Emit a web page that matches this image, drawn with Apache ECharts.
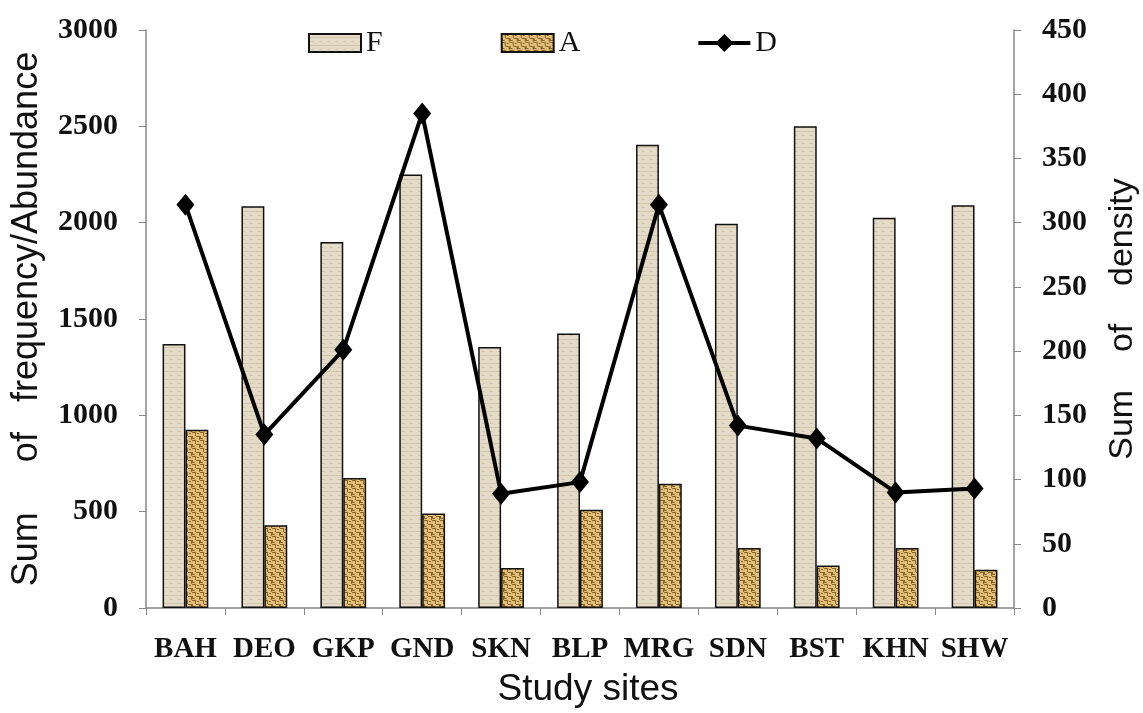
<!DOCTYPE html>
<html>
<head>
    <meta charset="utf-8">
    <title>Study sites</title>
    <style>
        html, body { margin: 0; padding: 0; background: #fff; }
        #main { width: 1143px; height: 713px; }
    </style>
</head>
<body>
    <div id="main"></div>
    <script src="https://cdn.jsdelivr.net/npm/echarts@6/dist/echarts.min.js"></script>
    <script>
    var sites = ['BAH', 'DEO', 'GKP', 'GND', 'SKN', 'BLP', 'MRG', 'SDN', 'BST', 'KHN', 'SHW'];
    var freq = [1370, 2085, 1900, 2250, 1355, 1425, 2405, 1995, 2500, 2025, 2090];
    var abund = [925, 430, 675, 490, 208, 510, 645, 312, 220, 312, 198];
    var density = [314, 135, 201, 385, 89, 98, 314, 142, 132, 90, 93];
    var leftTicks = [0, 3000, 500];
    var rightTicks = [0, 450, 50];

    // small canvas textures for the bars
    function makePattern(bg, fg, type) {
        var c = document.createElement('canvas');
        c.width = 8; c.height = 8;
        var ctx = c.getContext('2d');
        ctx.fillStyle = bg;
        ctx.fillRect(0, 0, 8, 8);
        ctx.fillStyle = fg;
        if (type == 'a') {
            ctx.fillRect(0, 0, 4, 1);
            ctx.fillRect(3, 1, 1, 3);
            ctx.fillRect(4, 4, 4, 1);
            ctx.fillRect(7, 5, 1, 3);
            ctx.fillRect(0, 4, 1, 3);
            ctx.fillRect(1, 6, 2, 1);
            ctx.fillRect(5, 1, 2, 1);
        } else {
            ctx.fillRect(0, 3, 8, 1);
            ctx.fillRect(2, 7, 3, 1);
        }
        return c;
    }

    var myChart = echarts.init(document.getElementById('main'));

    var serif = 'Liberation Serif';
    var sans = 'Liberation Sans';
    var fPattern = { image: makePattern('#e4dac8', '#d3c6ab', 'f'), repeat: 'repeat' };
    var aPattern = { image: makePattern('#e2c07a', '#8a6428', 'a'), repeat: 'repeat' };

    var option = {
        animation: false,
        backgroundColor: '#fff',
        legend: {
            top: 28,
            left: 308,
            padding: 0,
            itemGap: 118,
            itemWidth: 52,
            itemHeight: 18,
            textStyle: { fontFamily: serif, fontSize: 30, color: '#111' },
            data: [
                { name: 'F', icon: 'rect' },
                { name: 'A', icon: 'rect' },
                { name: 'D', icon: 'path://M0,7 L19,7 L26,0 L33,7 L52,7 L52,11 L33,11 L26,18 L19,11 L0,11 Z' }
            ]
        },
        grid: { left: 146, right: 129, top: 30, bottom: 105, outerBoundsMode: 'none' },
        xAxis: {
            type: 'category',
            data: sites,
            name: 'Study sites',
            nameLocation: 'middle',
            nameGap: 63,
            nameTextStyle: { fontFamily: sans, fontSize: 37, color: '#111', padding: [0, 0, 0, 16] },
            axisLine: { lineStyle: { color: '#888', width: 1.5 } },
            axisTick: { show: true, length: 7, lineStyle: { color: '#888' } },
            axisLabel: { fontFamily: serif, fontWeight: 'bold', fontSize: 29, color: '#111', margin: 27, interval: 0 }
        },
        yAxis: [{
            type: 'value',
            min: leftTicks[0],
            max: leftTicks[1],
            interval: leftTicks[2],
            name: 'Sum     of   frequency/Abundance',
            nameLocation: 'middle',
            nameGap: 101,
            nameTextStyle: { fontFamily: sans, fontSize: 36, color: '#111' },
            axisLine: { show: true, lineStyle: { color: '#888', width: 1.5 } },
            axisTick: { show: true, length: 7, lineStyle: { color: '#888' } },
            splitLine: { show: false },
            axisLabel: { fontFamily: serif, fontWeight: 'bold', fontSize: 30, color: '#111', margin: 28,
                formatter: function(v) { return String(v); } }
        }, {
            type: 'value',
            min: rightTicks[0],
            max: rightTicks[1],
            interval: rightTicks[2],
            name: 'Sum    of    density',
            nameLocation: 'middle',
            nameGap: 92,
            nameRotate: 90,
            nameTextStyle: { fontFamily: sans, fontSize: 34, color: '#111' },
            axisLine: { show: true, lineStyle: { color: '#888', width: 1.5 } },
            axisTick: { show: true, length: 7, lineStyle: { color: '#888' } },
            splitLine: { show: false },
            axisLabel: { fontFamily: serif, fontWeight: 'bold', fontSize: 30, color: '#111', margin: 28,
                formatter: function(v) { return String(v); } }
        }],
        series: [{
            name: 'F',
            type: 'bar',
            data: freq,
            barGap: '0%',
            barCategoryGap: '42%',
            itemStyle: { color: fPattern, borderColor: '#111', borderWidth: 1.5 }
        }, {
            name: 'A',
            type: 'bar',
            data: abund,
            itemStyle: { color: aPattern, borderColor: '#111', borderWidth: 1.5 }
        }, {
            name: 'D',
            type: 'line',
            yAxisIndex: 1,
            data: density,
            symbol: 'diamond',
            symbolSize: [18, 22],
            lineStyle: { color: '#000', width: 4 },
            itemStyle: { color: '#000' }
        }]
    };

    myChart.setOption(option);
    </script>
</body>
</html>
